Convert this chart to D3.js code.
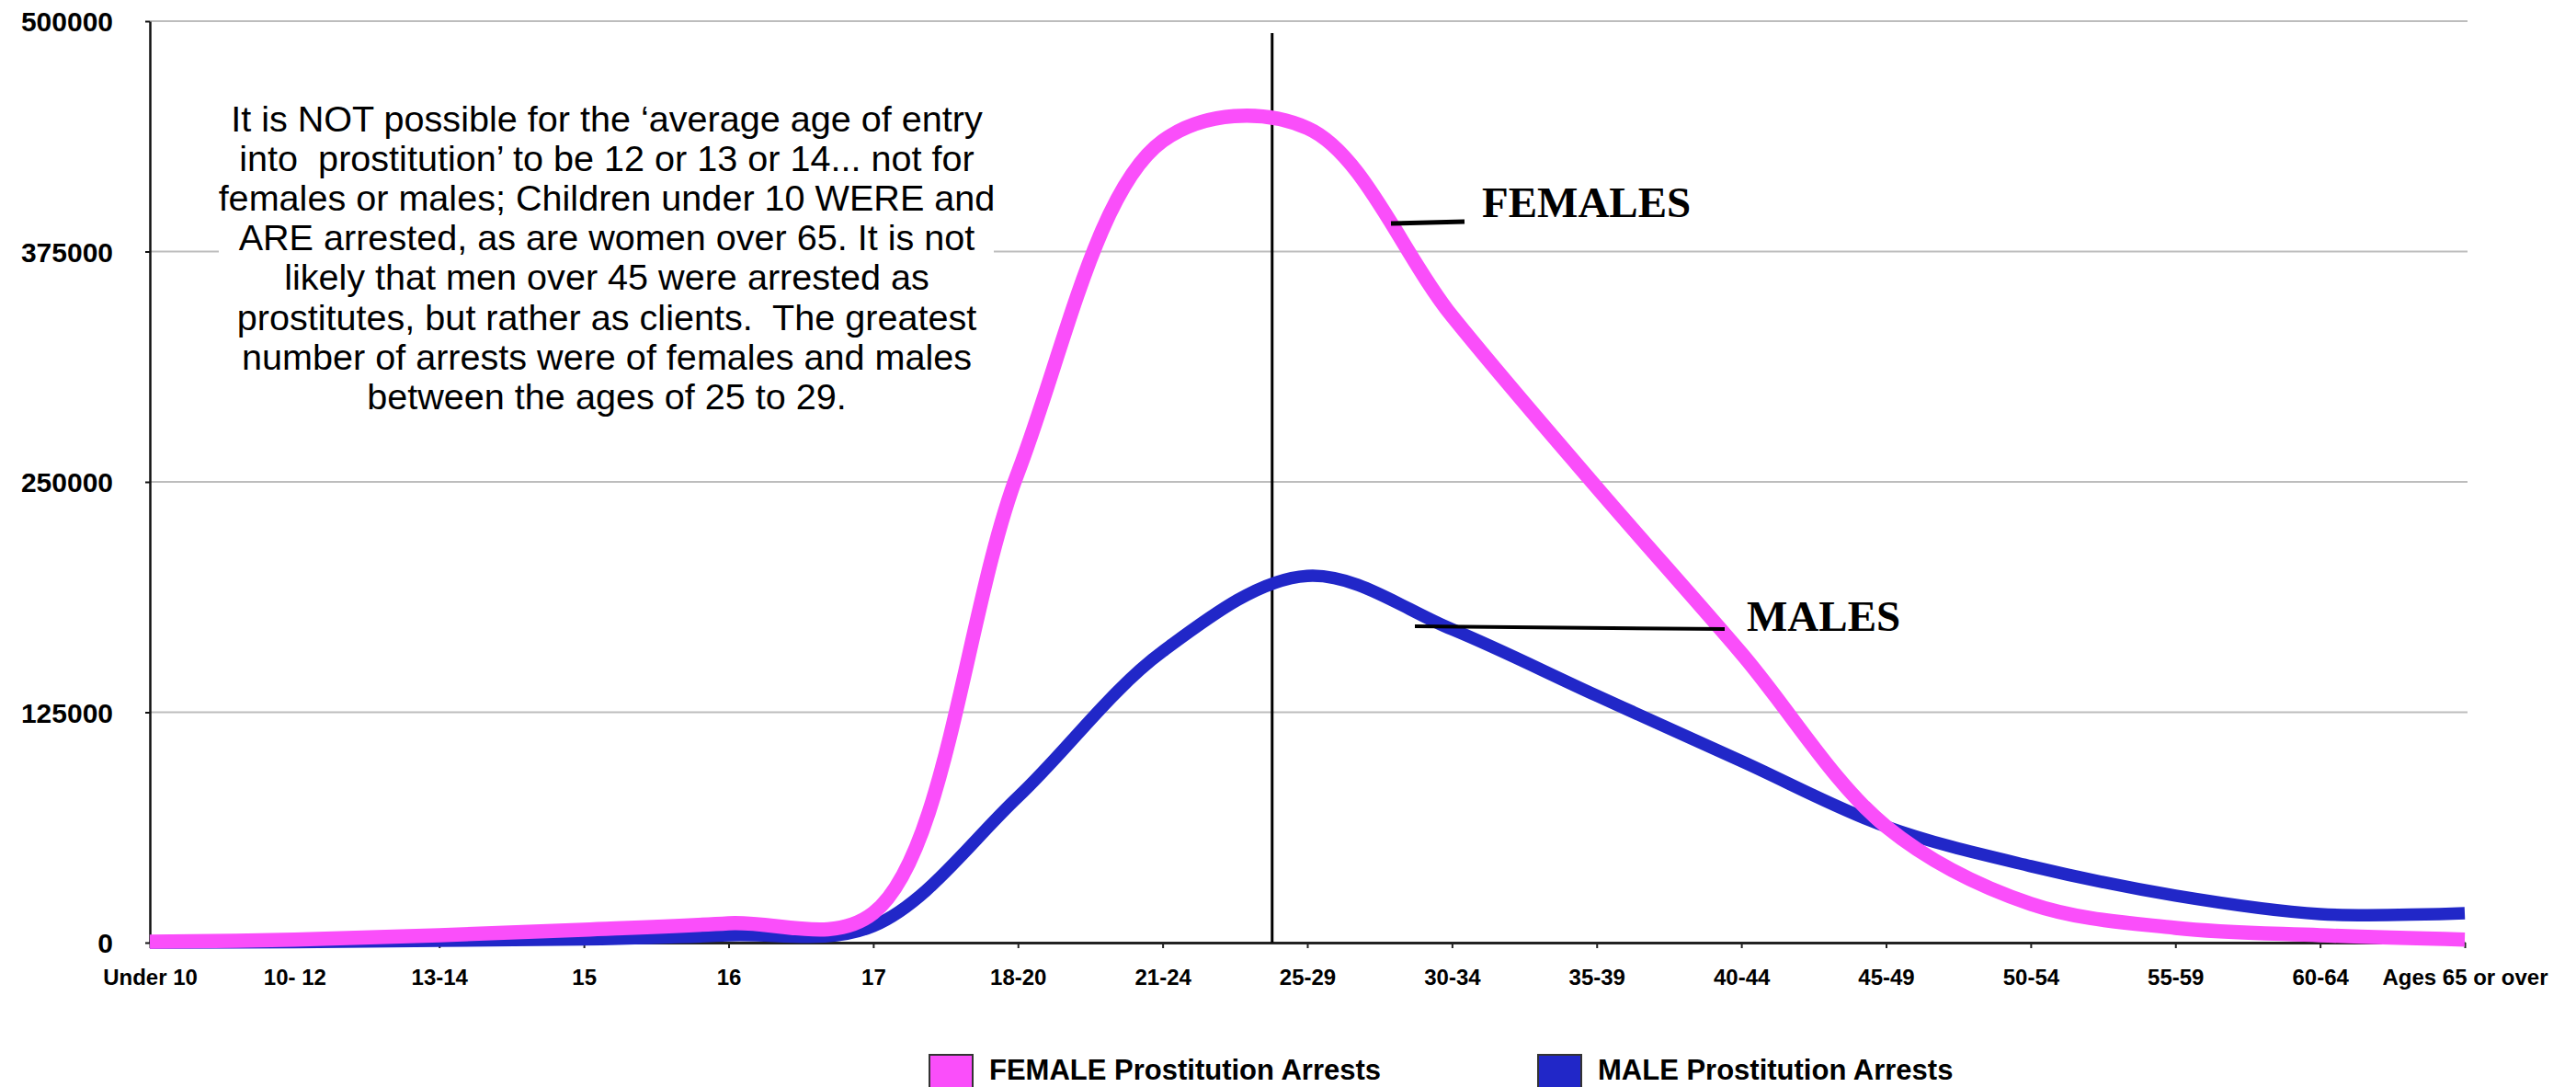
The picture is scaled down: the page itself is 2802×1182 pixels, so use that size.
<!DOCTYPE html>
<html>
<head>
<meta charset="utf-8">
<script src="https://cdn.jsdelivr.net/npm/d3@7"></script>
<style>
  html, body { margin: 0; padding: 0; background: #ffffff; }
  svg { display: block; }
</style>
</head>
<body>
<svg id="chart" width="2802" height="1182"></svg>
<script>
// ---- data ----
const categories = ["Under 10", "10- 12", "13-14", "15", "16", "17", "18-20", "21-24", "25-29",
  "30-34", "35-39", "40-44", "45-49", "50-54", "55-59", "60-64", "Ages 65 or over"];
const femaleArrests = [500, 1600, 4000, 7000, 10500, 16000, 255000, 435000, 442000,
  340000, 247000, 157000, 63000, 21000, 8000, 4000, 1600];
const maleArrests = [0, 300, 1000, 1800, 4000, 9000, 79000, 158000, 199000,
  170000, 134000, 98500, 63000, 41500, 25500, 15500, 16000];
const yTicks = [0, 125000, 250000, 375000, 500000];
const seriesNames = ["FEMALE Prostitution Arrests", "MALE Prostitution Arrests"];
const noteLines = [
  "It is NOT possible for the \u2018average age of entry",
  "into  prostitution\u2019 to be 12 or 13 or 14... not for",
  "females or males; Children under 10 WERE and",
  "ARE arrested, as are women over 65. It is not",
  "likely that men over 45 were arrested as",
  "prostitutes, but rather as clients.  The greatest",
  "number of arrests were of females and males",
  "between the ages of 25 to 29."
];

(function () {
// ---- styling ----
const pink = "#fa4efa", blue = "#2127c8";
const svg = d3.select("#chart");
const pLeft = 163, pRight = 2681, pTop = 23, pBottom = 1025;

const x = d3.scalePoint().domain(categories).range([pLeft, pRight]);
const y = d3.scaleLinear().domain([0, 500000]).range([pBottom, pTop]);

// gridlines
svg.append("g").selectAll("line").data(yTicks.filter(d => d > 0)).join("line")
  .attr("x1", pLeft).attr("x2", pRight + 3)
  .attr("y1", d => y(d)).attr("y2", d => y(d))
  .attr("stroke", "#bdbdbd").attr("stroke-width", 2);

// annotation text box (white backdrop)
const noteCx = 660;
svg.append("rect").attr("x", 238).attr("y", 100).attr("width", 843).attr("height", 365)
  .attr("fill", "#fff");
const note = svg.append("text")
  .attr("font-family", "'Liberation Sans', Arial, sans-serif")
  .attr("text-anchor", "middle").attr("fill", "#000")
  .style("white-space", "pre");
const probe = svg.append("text").attr("font-family", "'Liberation Sans', Arial, sans-serif")
  .attr("font-size", 100).style("white-space", "pre").text(noteLines[0]);
const w100 = probe.node().getComputedTextLength();
probe.remove();
const noteSize = 100 * 818 / w100;
note.attr("font-size", noteSize);
noteLines.forEach((t, i) => {
  note.append("tspan").attr("x", noteCx).attr("y", 143 + i * 43.1).text(t);
});

// axes
const yAxis = d3.axisLeft(y).tickValues(yTicks).tickFormat(d3.format("d"))
  .tickSize(5).tickSizeOuter(0).tickPadding(35);
const gy = svg.append("g").attr("transform", `translate(${pLeft},0)`).call(yAxis);
gy.select(".domain").attr("stroke", "#111").attr("stroke-width", 2.5);
gy.selectAll(".tick line").attr("stroke", "#111").attr("stroke-width", 2);
gy.selectAll(".tick text").attr("font-family", "'Liberation Sans', Arial, sans-serif")
  .attr("font-weight", "bold").attr("font-size", 30).attr("fill", "#000").attr("dy", "0.36em");

const xAxis = d3.axisBottom(x).tickSize(6).tickSizeOuter(0).tickPadding(23);
const gx = svg.append("g").attr("transform", `translate(0,${pBottom})`).call(xAxis);
gx.select(".domain").attr("stroke", "#222").attr("stroke-width", 3);
gx.selectAll(".tick line").attr("stroke", "#222").attr("stroke-width", 2);
gx.selectAll(".tick text").attr("font-family", "'Liberation Sans', Arial, sans-serif")
  .attr("font-weight", "bold").attr("font-size", 24).attr("fill", "#000");

// vertical marker line (between 21-24 and 25-29)
const step = x.step();
const markerX = x("21-24") + 0.757 * step;
svg.append("line").attr("x1", markerX).attr("x2", markerX)
  .attr("y1", 36).attr("y2", pBottom).attr("stroke", "#000").attr("stroke-width", 3);

// series lines
const line = d3.line().x((d, i) => x(categories[i])).y(d => y(d))
  .curve(d3.curveCatmullRom.alpha(0.5));
svg.append("path").datum(maleArrests).attr("d", line)
  .attr("fill", "none").attr("stroke", blue).attr("stroke-width", 13.5);
svg.append("path").datum(femaleArrests).attr("d", line)
  .attr("fill", "none").attr("stroke", pink).attr("stroke-width", 15.5);

// series labels with leader lines
svg.append("line").attr("x1", 1513).attr("y1", 243).attr("x2", 1593).attr("y2", 241)
  .attr("stroke", "#000").attr("stroke-width", 5);
svg.append("text").attr("x", 1612).attr("y", 236)
  .attr("font-family", "'Liberation Serif', 'Times New Roman', serif")
  .attr("font-weight", "bold").attr("font-size", 47).text("FEMALES");
svg.append("line").attr("x1", 1539).attr("y1", 681).attr("x2", 1876).attr("y2", 684)
  .attr("stroke", "#000").attr("stroke-width", 4);
svg.append("text").attr("x", 1900).attr("y", 686)
  .attr("font-family", "'Liberation Serif', 'Times New Roman', serif")
  .attr("font-weight", "bold").attr("font-size", 47).text("MALES");

// legend
const legendX = [1011, 1673];
const legendColors = [pink, blue];
seriesNames.forEach((name, i) => {
  svg.append("rect").attr("x", legendX[i]).attr("y", 1147).attr("width", 47).attr("height", 47)
    .attr("fill", legendColors[i]).attr("stroke", "#333").attr("stroke-width", 2);
  svg.append("text").attr("x", legendX[i] + 65).attr("y", 1174)
    .attr("font-family", "'Liberation Sans', Arial, sans-serif")
    .attr("font-weight", "bold").attr("font-size", 31).attr("fill", "#000").text(name);
});
})();
</script>
</body>
</html>
